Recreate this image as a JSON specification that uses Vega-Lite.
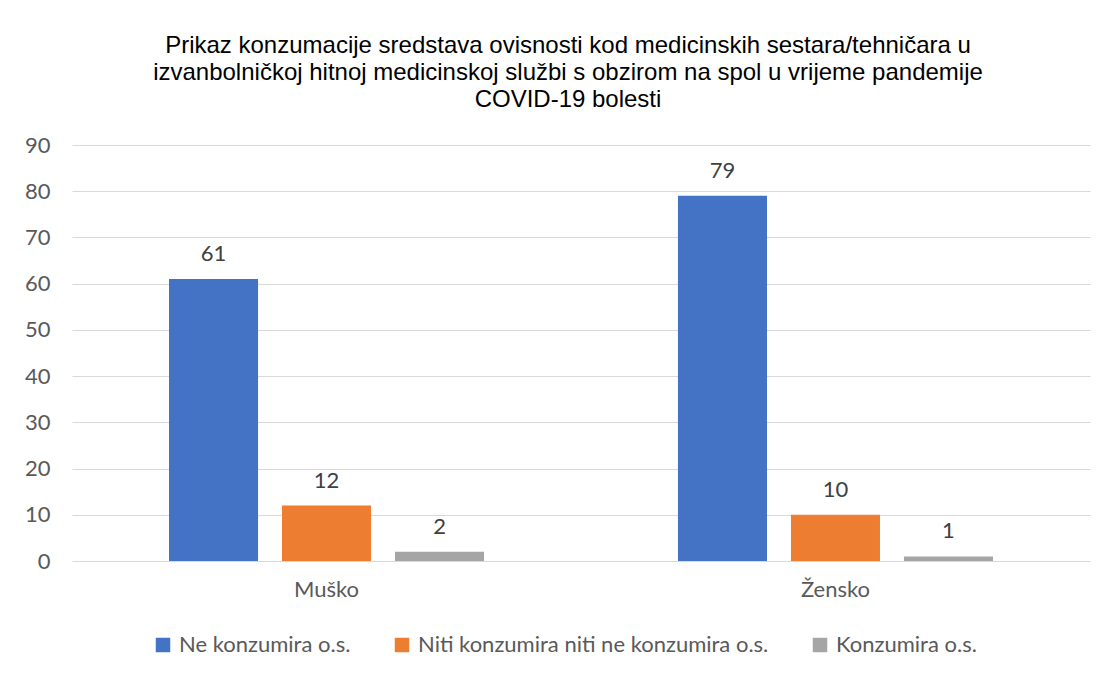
{
  "$schema": "https://vega.github.io/schema/vega-lite/v6.json",
  "autosize": {"type": "none"},
  "width": 1018,
  "height": 416,
  "padding": {"left": 72, "top": 145, "right": 17, "bottom": 117},
  "background": "white",
  "config": {"view": {"stroke": null}},
  "title": {
    "text": ["Prikaz konzumacije sredstava ovisnosti kod medicinskih sestara/tehničara u", "izvanbolničkoj hitnoj medicinskoj službi s obzirom na spol u vrijeme pandemije", "COVID-19 bolesti"],
    "font": "Liberation Sans",
    "fontSize": 24,
    "fontWeight": "normal",
    "color": "#000000",
    "lineHeight": 27,
    "anchor": "middle",
    "dx": -13,
    "offset": 22
  },
  "data": {
    "values": [
      {"spol": "Muško", "kategorija": "Ne konzumira o.s.", "broj": 61},
      {"spol": "Muško", "kategorija": "Niti konzumira niti ne konzumira o.s.", "broj": 12},
      {"spol": "Muško", "kategorija": "Konzumira o.s.", "broj": 2},
      {"spol": "Žensko", "kategorija": "Ne konzumira o.s.", "broj": 79},
      {"spol": "Žensko", "kategorija": "Niti konzumira niti ne konzumira o.s.", "broj": 10},
      {"spol": "Žensko", "kategorija": "Konzumira o.s.", "broj": 1}
    ]
  },
  "encoding": {
    "x": {
      "field": "spol",
      "type": "nominal",
      "sort": ["Muško", "Žensko"],
      "scale": {"paddingInner": 0.381, "paddingOuter": 0.1906},
      "axis": {
        "title": null,
        "labelAngle": 0,
        "domain": false,
        "ticks": false,
        "labelFont": "Lato",
        "labelFontSize": 22,
        "labelColor": "#595959",
        "labelPadding": 18
      }
    },
    "xOffset": {
      "field": "kategorija",
      "type": "nominal",
      "sort": ["Ne konzumira o.s.", "Niti konzumira niti ne konzumira o.s.", "Konzumira o.s."],
      "scale": {"paddingInner": 0.212, "paddingOuter": 0}
    },
    "y": {
      "field": "broj",
      "type": "quantitative",
      "scale": {"domain": [0, 90], "nice": false},
      "axis": {
        "title": null,
        "values": [0, 10, 20, 30, 40, 50, 60, 70, 80, 90],
        "domain": false,
        "ticks": false,
        "grid": true,
        "gridColor": "#d9d9d9",
        "gridWidth": 1,
        "labelFont": "Lato",
        "labelFontSize": 22,
        "labelColor": "#595959",
        "labelPadding": 22
      }
    }
  },
  "layer": [
    {
      "mark": {"type": "bar"},
      "encoding": {
        "color": {
          "field": "kategorija",
          "type": "nominal",
          "sort": ["Ne konzumira o.s.", "Niti konzumira niti ne konzumira o.s.", "Konzumira o.s."],
          "scale": {
            "domain": ["Ne konzumira o.s.", "Niti konzumira niti ne konzumira o.s.", "Konzumira o.s."],
            "range": ["#4472C4", "#ED7D31", "#A5A5A5"]
          },
          "legend": {
            "title": null,
            "orient": "none",
            "direction": "horizontal",
            "legendX": 80,
            "legendY": 489,
            "symbolType": "square",
            "symbolSize": 210,
            "symbolStrokeWidth": 0,
            "symbolOpacity": 1,
            "labelFont": "Lato",
            "labelFontSize": 22,
            "labelColor": "#595959",
            "labelOffset": 5,
            "labelLimit": 500,
            "columnPadding": 40
          }
        }
      }
    },
    {
      "mark": {"type": "text", "baseline": "bottom", "dy": -13, "font": "Lato", "fontSize": 22, "color": "#404040"},
      "encoding": {
        "text": {"field": "broj", "type": "quantitative"}
      }
    }
  ]
}
